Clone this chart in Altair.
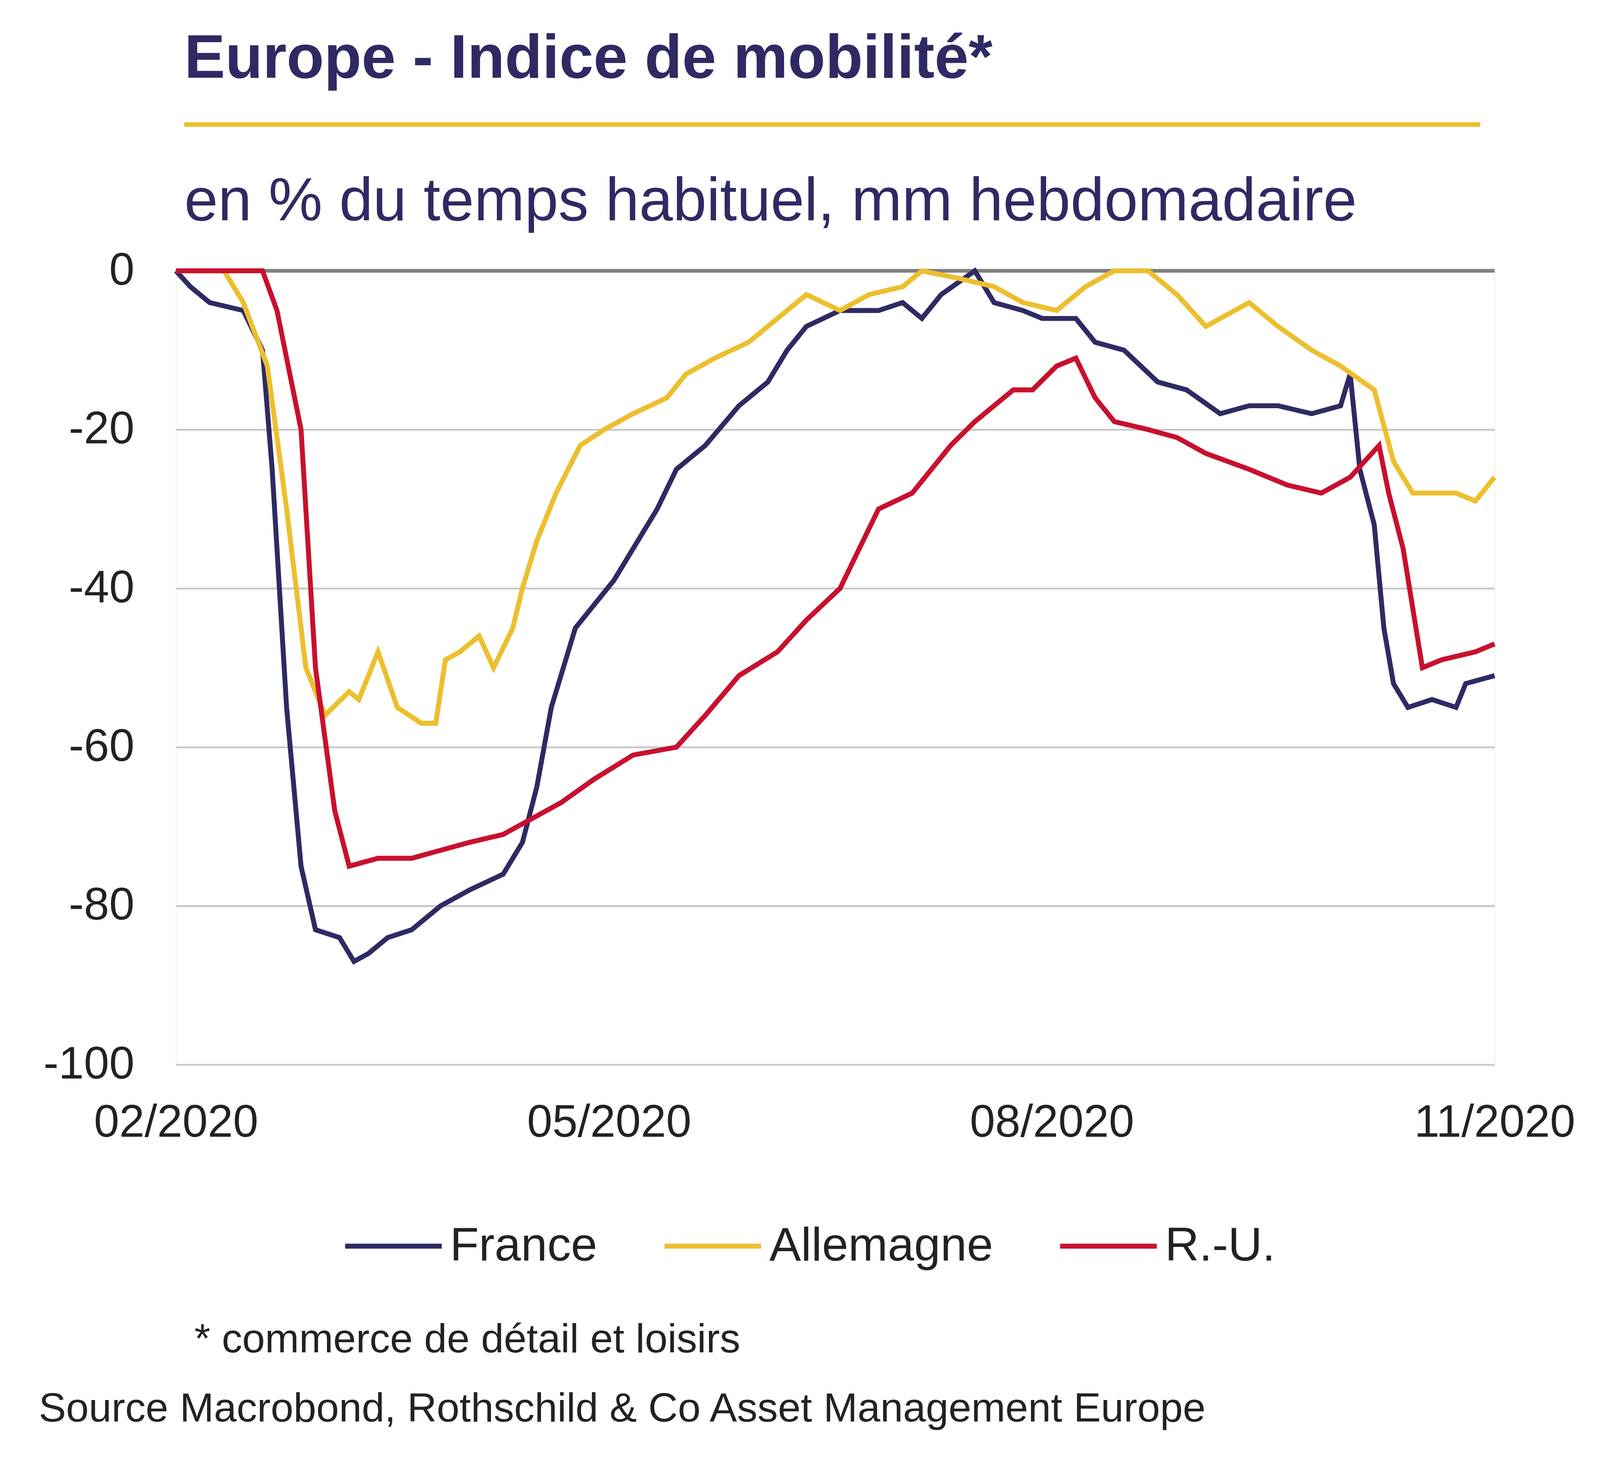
import altair as alt
import pandas as pd

# days since 2020-02-01 and index values (% of usual time)
fr_days = [0, 3, 7, 14, 18, 20, 23, 26, 29, 34, 37, 40, 44, 49, 55, 61, 68, 72, 75, 78, 83, 87, 91, 95, 100, 104,
           110, 117, 123, 127, 131, 138, 146, 151, 155, 159, 166, 170, 176, 180, 187, 191, 197, 204, 210, 217, 223,
           229, 236, 242, 244, 246, 249, 251, 253, 256, 261, 266, 268, 274]
fr_vals = [0, -2, -4, -5, -10, -25, -55, -75, -83, -84, -87, -86, -84, -83, -80, -78, -76, -72, -65, -55, -45, -42,
           -39, -35, -30, -25, -22, -17, -14, -10, -7, -5, -5, -4, -6, -3, 0, -4, -5, -6, -6, -9, -10, -14, -15, -18,
           -17, -17, -18, -17, -13, -25, -32, -45, -52, -55, -54, -55, -52, -51]
de_days = [0, 10, 14, 19, 23, 27, 31, 36, 38, 42, 46, 51, 54, 56, 59, 63, 66, 70, 72, 75, 79, 84, 89, 95, 102, 106,
           112, 119, 125, 131, 138, 144, 151, 155, 163, 170, 176, 183, 189, 195, 202, 208, 214, 223, 229, 236, 242,
           249, 253, 257, 266, 270, 274]
de_vals = [0, 0, -4, -12, -30, -50, -56, -53, -54, -48, -55, -57, -57, -49, -48, -46, -50, -45, -40, -34, -28, -22,
           -20, -18, -16, -13, -11, -9, -6, -3, -5, -3, -2, 0, -1, -2, -4, -5, -2, 0, 0, -3, -7, -4, -7, -10, -12,
           -15, -24, -28, -28, -29, -26]
uk_days = [0, 18, 21, 26, 29, 33, 36, 42, 49, 55, 61, 68, 74, 80, 87, 95, 104, 110, 117, 125, 131, 138, 142, 146,
           153, 157, 161, 166, 170, 174, 178, 183, 187, 191, 195, 202, 208, 214, 223, 231, 238, 244, 250, 252, 255,
           259, 263, 270, 274]
uk_vals = [0, 0, -5, -20, -50, -68, -75, -74, -74, -73, -72, -71, -69, -67, -64, -61, -60, -56, -51, -48, -44, -40,
           -35, -30, -28, -25, -22, -19, -17, -15, -15, -12, -11, -16, -19, -20, -21, -23, -25, -27, -28, -26, -22,
           -28, -35, -50, -49, -48, -47]
series = ["France", "Allemagne", "R.-U."]
colors = ["#2e2a63", "#ecbf2e", "#c8102e"]
tick_dates = ["2020-02-01T00:00:00", "2020-05-01T00:00:00", "2020-08-01T00:00:00", "2020-11-01T00:00:00"]

start = pd.Timestamp("2020-02-01")
rows = []
for name, days, vals in zip(series, [fr_days, de_days, uk_days], [fr_vals, de_vals, uk_vals]):
    for d, v in zip(days, vals):
        rows.append({"date": (start + pd.Timedelta(days=d)).strftime("%Y-%m-%dT%H:%M:%S"), "value": v, "pays": name})
df = pd.DataFrame(rows)

W, H = 3480, 2095
F = "Liberation Sans"

x = alt.X("date:T", title=None, scale=alt.Scale(domain=[tick_dates[0], tick_dates[-1]]),
          axis=alt.Axis(values=tick_dates, format="%m/%Y", labelFontSize=120, labelPadding=95, ticks=False,
                        domain=False, grid=False, labelColor="#222", labelFont=F, labelLimit=0,
                        labelAlign="center", labelFlush=False))
y = alt.Y("value:Q", title=None, scale=alt.Scale(domain=[-100, 0], nice=False),
          axis=alt.Axis(values=[0, -20, -40, -60, -80, -100], labelFontSize=120, labelPadding=110, ticks=False,
                        domain=False, gridColor="#c8c8c8", gridWidth=5, labelColor="#222", labelFont=F,
                        labelLimit=0, labelExpr="'' + datum.value"))

lines = alt.Chart(df).mark_line(strokeWidth=13).encode(
    x=x, y=y,
    color=alt.Color("pays:N", scale=alt.Scale(domain=series, range=colors), sort=series,
                    legend=alt.Legend(title=None, orient="none", legendX=440, legendY=2440, direction="horizontal",
                                      symbolType="stroke", symbolSize=65000, symbolStrokeWidth=13,
                                      labelFontSize=125, labelFont=F, labelColor="#222", columnPadding=150,
                                      labelOffset=15, symbolOffset=0, labelLimit=0)),
    detail="pays:N",
)

zero = alt.Chart(pd.DataFrame({"v": [0]})).mark_rule(color="#808080", strokeWidth=10).encode(y=alt.Y("v:Q"))

hdr = pd.DataFrame({"t": ["Europe - Indice de mobilité*"]})
title = alt.Chart(hdr).mark_text(align="left", baseline="middle", fontSize=162, fontWeight="bold",
                                 color="#2e2a63", font=F).encode(
    text="t:N", x=alt.value(22), y=alt.value(-559))
sub = alt.Chart(pd.DataFrame({"t": ["en % du temps habituel, mm hebdomadaire"]})).mark_text(
    align="left", baseline="middle", fontSize=160, color="#2e2a63", font=F).encode(
    text="t:N", x=alt.value(22), y=alt.value(-181))
rule = alt.Chart(hdr).mark_rule(color="#ecbf2e", strokeWidth=12).encode(
    x=alt.value(22), x2=alt.value(3442), y=alt.value(-386))
note = alt.Chart(pd.DataFrame({"t": ["* commerce de détail et loisirs"]})).mark_text(
    align="left", baseline="middle", fontSize=108, color="#222", font=F).encode(
    text="t:N", x=alt.value(49), y=alt.value(2822))
src = alt.Chart(pd.DataFrame({"t": ["Source Macrobond, Rothschild & Co Asset Management Europe"]})).mark_text(
    align="left", baseline="middle", fontSize=108, color="#222", font=F).encode(
    text="t:N", x=alt.value(-362), y=alt.value(3005))

chart = alt.layer(zero, lines, title, rule, sub, note, src).properties(
    width=W, height=H, autosize=alt.AutoSizeParams(type="none"),
    padding={"left": 456, "top": 648, "right": 270, "bottom": 1040},
).configure_view(stroke=None).configure(background="white")

chart.save("out.html", embed_options={"renderer": "svg", "actions": False})
